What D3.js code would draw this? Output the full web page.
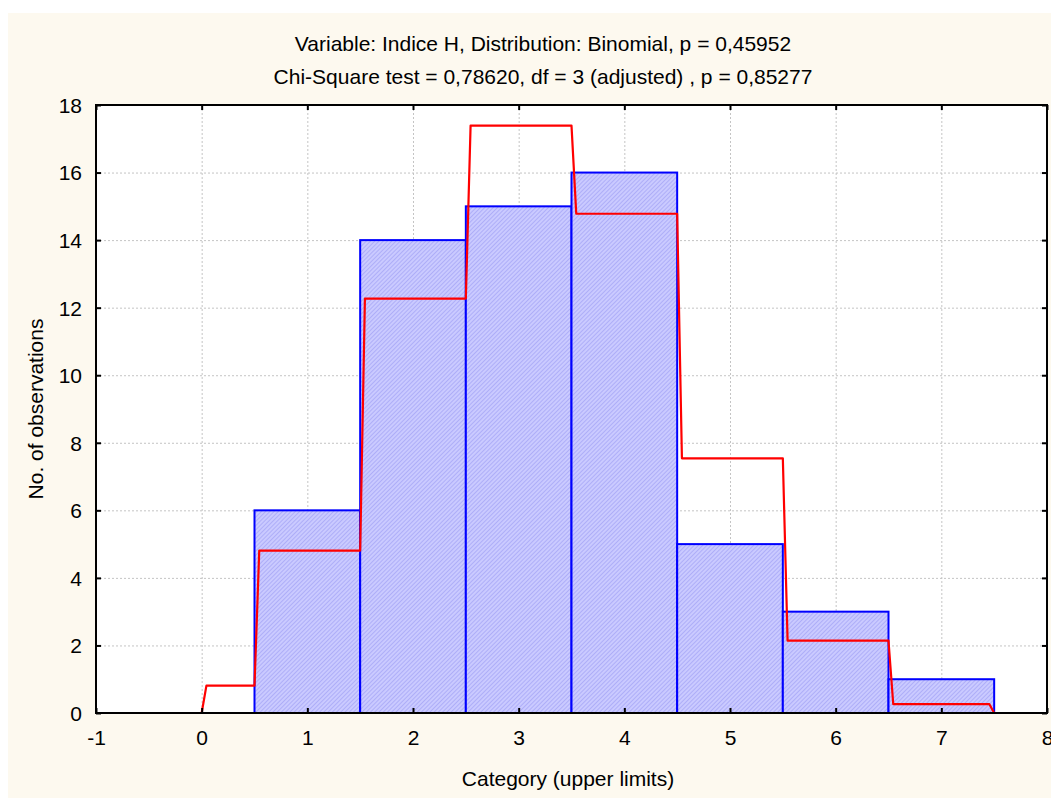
<!DOCTYPE html>
<html>
<head>
<meta charset="utf-8">
<script src="https://cdn.jsdelivr.net/npm/d3@7"></script>
<style>
  body { margin: 0; background: #fff; }
  svg { display: block; font-family: Arial, "Liberation Sans", sans-serif; }
</style>
</head>
<body>
<svg id="chart" width="1051" height="798"></svg>
<script>
// histogram counts per category (upper limits)
const categories = [0, 1, 2, 3, 4, 5, 6, 7];
const observed = [0, 6, 14, 15, 16, 5, 3, 1];
// expected frequencies (binomial fit)
const expected = [0.81, 4.81, 12.27, 17.39, 14.78, 7.54, 2.14, 0.26];
const xTicks = [-1, 0, 1, 2, 3, 4, 5, 6, 7, 8];
const yTicks = [0, 2, 4, 6, 8, 10, 12, 14, 16, 18];

const titleLines = [
  "Variable: Indice H, Distribution: Binomial, p = 0,45952",
  "Chi-Square test = 0,78620, df = 3 (adjusted) , p = 0,85277"
];

const svg = d3.select("#chart");
const dim = { left: 96, right: 1047, top: 105, bottom: 713 };
const fs = 21;

// beige panel
svg.append("rect")
  .attr("x", 8).attr("y", 13)
  .attr("width", 1051 - 8).attr("height", 798 - 13)
  .attr("fill", "#fdf9ef");

const x = d3.scaleLinear().domain([-1, 8]).range([dim.left, dim.right]);
const y = d3.scaleLinear().domain([0, 18]).range([dim.bottom, dim.top]);

// hatch pattern for bars
const defs = svg.append("defs");
const pat = defs.append("pattern")
  .attr("id", "hatch")
  .attr("patternUnits", "userSpaceOnUse")
  .attr("width", 3).attr("height", 3)
  .attr("patternTransform", "rotate(45)");
pat.append("rect").attr("width", 3).attr("height", 3).attr("fill", "#cacaff");
pat.append("line")
  .attr("x1", 0.5).attr("y1", 0).attr("x2", 0.5).attr("y2", 3)
  .attr("stroke", "#aeaef8").attr("stroke-width", 1);

// plot background
svg.append("rect")
  .attr("x", dim.left).attr("y", dim.top)
  .attr("width", dim.right - dim.left).attr("height", dim.bottom - dim.top)
  .attr("fill", "#fff");

// grid lines
const grid = svg.append("g").attr("stroke", "#c4c4c4").attr("stroke-dasharray", "2,2").attr("stroke-width", 1);
grid.selectAll(".gx").data(xTicks.slice(1, -1)).enter().append("line")
  .attr("x1", d => x(d) + 0.5).attr("x2", d => x(d) + 0.5)
  .attr("y1", dim.top).attr("y2", dim.bottom);
grid.selectAll(".gy").data(yTicks.slice(1, -1)).enter().append("line")
  .attr("y1", d => y(d) + 0.5).attr("y2", d => y(d) + 0.5)
  .attr("x1", dim.left).attr("x2", dim.right);

// bars
const bars = categories.map((c, i) => ({ c: c, v: observed[i] })).filter(d => d.v > 0);
svg.append("g").selectAll("rect").data(bars).enter().append("rect")
  .attr("x", d => x(d.c - 0.5))
  .attr("y", d => y(d.v))
  .attr("width", d => x(d.c + 0.5) - x(d.c - 0.5))
  .attr("height", d => y(0) - y(d.v))
  .attr("fill", "url(#hatch)")
  .attr("stroke", "#0000ff")
  .attr("stroke-width", 2);

// expected frequency step line
const dx = 0.045;
let pts = [[0, 0]];
categories.forEach((c, i) => {
  const lo = Math.max(0, c - 0.5);
  pts.push([lo + dx, expected[i]]);
  if (i < categories.length - 1) pts.push([c + 0.5, expected[i]]);
  else { pts.push([c + 0.5 - dx, expected[i]]); pts.push([c + 0.5, 0]); }
});
svg.append("path")
  .attr("d", d3.line().x(d => x(d[0])).y(d => y(d[1]))(pts))
  .attr("fill", "none")
  .attr("stroke", "#ff0000")
  .attr("stroke-width", 2.2)
  .attr("stroke-linejoin", "round");

// frame
svg.append("rect")
  .attr("x", dim.left).attr("y", dim.top)
  .attr("width", dim.right - dim.left).attr("height", dim.bottom - dim.top)
  .attr("fill", "none").attr("stroke", "#000").attr("stroke-width", 2);

// axes with inward ticks
const fmt = d => String(d);
const axB = svg.append("g").attr("transform", `translate(0,${dim.bottom})`)
  .call(d3.axisBottom(x).tickValues(xTicks).tickSize(-5).tickPadding(17).tickFormat(fmt));
const axT = svg.append("g").attr("transform", `translate(0,${dim.top})`)
  .call(d3.axisTop(x).tickValues(xTicks).tickSize(-5).tickFormat(""));
const axL = svg.append("g").attr("transform", `translate(${dim.left},0)`)
  .call(d3.axisLeft(y).tickValues(yTicks).tickSize(-5).tickPadding(14).tickFormat(fmt));
const axR = svg.append("g").attr("transform", `translate(${dim.right},0)`)
  .call(d3.axisRight(y).tickValues(yTicks).tickSize(-5).tickFormat(""));
[axB, axT, axL, axR].forEach(a => {
  a.attr("font-size", fs).attr("font-family", "Arial, 'Liberation Sans', sans-serif");
  a.select(".domain").remove();
  a.selectAll(".tick line").attr("stroke", "#000").attr("stroke-width", 2);
  a.selectAll("text").attr("fill", "#000");
});
axL.selectAll("text").attr("dy", "0.35em");

// titles
svg.selectAll(".title").data(titleLines).enter().append("text")
  .attr("x", 543).attr("y", (d, i) => 51 + i * 33)
  .attr("text-anchor", "middle").attr("font-size", fs).attr("fill", "#000")
  .text(d => d);

svg.append("text")
  .attr("x", 568).attr("y", 786)
  .attr("text-anchor", "middle").attr("font-size", fs)
  .text("Category (upper limits)");

svg.append("text")
  .attr("transform", "translate(43,409) rotate(-90)")
  .attr("text-anchor", "middle").attr("font-size", fs)
  .text("No. of observations");
</script>
</body>
</html>
